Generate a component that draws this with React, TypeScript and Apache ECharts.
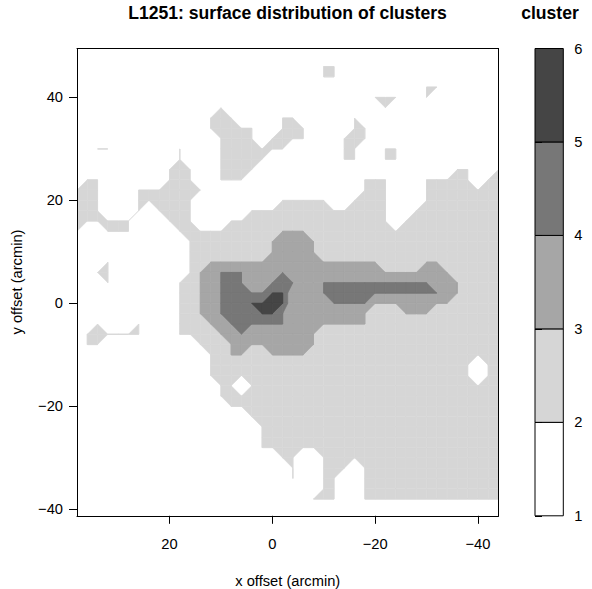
import React, { useEffect, useRef } from "react";
import * as echarts from "echarts";

// grid point coordinates (arcmin)
const xCoords = [38, 36, 34, 32, 30, 28, 26, 24, 22, 20, 18, 16, 14, 12, 10, 8, 6, 4, 2, 0, -2, -4, -6, -8, -10, -12, -14, -16, -18, -20, -22, -24, -26, -28, -30, -32, -34, -36, -38, -40, -42, -44];
const yCoords = [50, 48, 46, 44, 42, 40, 38, 36, 34, 32, 30, 28, 26, 24, 22, 20, 18, 16, 14, 12, 10, 8, 6, 4, 2, 0, -2, -4, -6, -8, -10, -12, -14, -16, -18, -20, -22, -24, -26, -28, -30, -32, -34, -36, -38, -40, -42];

// cluster value at each grid point: one row per y (top to bottom), one char per x (left to right)
const gridRows = [
  "1111111111 1111111111 1111111111 1111111111 11",
  "1111111111 1111111111 1111111111 1111111111 11",
  "1111111111 1111111111 1111221111 1111111111 11",
  "1111111111 1111111111 1111221111 1111111111 11",
  "1111111111 1111111111 1111111111 1111221111 11",
  "1111111111 1111111111 1111111112 2211211111 11",
  "1111111111 1111211111 1111111111 2111111111 11",
  "1111111111 1112221111 2211111211 1111111111 11",
  "1111111111 1112222211 2221111221 1111111111 11",
  "1111111111 1111222212 2221112221 1111111111 11",
  "1122111111 2111222222 2111112211 2211111111 11",
  "1111111111 2111222221 1111112211 2211111111 11",
  "1111111112 2211222211 1111111111 1111111221 12",
  "1221111112 2211222111 1111111122 2111222221 22",
  "2221112222 2221111111 1111111122 2111222222 22",
  "2221112222 2211111111 2222211222 2111222222 22",
  "2221112122 2211111222 2222222222 2112222222 22",
  "2222221112 2211122222 2222222222 2122222222 22",
  "2112221111 2222222222 3332222222 2222222222 22",
  "1111111111 1222222223 3333222222 2222222222 22",
  "1111111111 1222222223 3333222222 2222222222 22",
  "1112111111 1223333333 3333333333 2222332222 22",
  "1122111111 1233444333 4333333333 3333333222 22",
  "1112111111 2233444334 4433444444 4444433322 22",
  "1111111111 2233444445 5333444444 4444443322 22",
  "1111111111 2233444555 5333344443 3333333222 22",
  "1111111111 2233444455 4333333332 2233322222 22",
  "1121112111 2223344444 4333333332 2222222222 22",
  "1222222111 2222334333 3333222222 2222222222 22",
  "1221111111 1122233333 3333222222 2222222222 22",
  "1111111111 1112233223 3332222222 2222222222 22",
  "1111111111 1112222222 2222222222 2222222221 22",
  "1111111111 1112222222 2222222222 2222222221 22",
  "1111111111 1111221222 2222222222 2222222222 22",
  "1111111111 1111222222 2222222222 2222222222 22",
  "1111111111 1111122222 2222222222 2222222222 22",
  "1111111111 1111111222 2222222222 2222222222 22",
  "1111111111 1111111122 2222222222 2222222222 22",
  "1111111111 1111111122 2222222222 2222222222 22",
  "1111111111 1111111122 2222222222 2222222222 22",
  "1111111111 1111111111 2211222222 2222222222 22",
  "1111111111 1111111111 1211222122 2222222222 22",
  "1111111111 1111111111 1211221122 2222222222 22",
  "1111111111 1111111111 1111221122 2222222222 22",
  "1111111111 1111111111 1112221122 2222222222 22",
  "1111111111 1111111111 1111111111 1111111111 11",
  "1111111111 1111111111 1111111111 1111111111 11",
];

const levels = [1, 2, 3, 4, 5, 6];
const bandColors = ["#FFFFFF", "#D6D6D6", "#A6A6A6", "#777777", "#454545"];
const xTicks = [20, 0, -20, -40];
const yTicks = [-40, -20, 0, 20, 40];
const titleText = "L1251: surface distribution of clusters";
const legendTitle = "cluster";
const xLabel = "x offset (arcmin)";
const yLabel = "y offset (arcmin)";

const FONT = '"Liberation Sans", Arial, Helvetica, sans-serif';

const values: number[][] = gridRows.map((r) =>
  r.replace(/ /g, "").split("").map((c) => Number(c))
);

type Pt = { x: number; y: number; v: number };

function clipAbove(poly: Pt[], L: number): Pt[] {
  const out: Pt[] = [];
  for (let k = 0; k < poly.length; k++) {
    const P = poly[k];
    const Q = poly[(k + 1) % poly.length];
    const pin = P.v >= L;
    const qin = Q.v >= L;
    if (pin && qin) {
      out.push(Q);
    } else if (pin && !qin) {
      const t = (L - P.v) / (Q.v - P.v);
      out.push({ x: P.x + t * (Q.x - P.x), y: P.y + t * (Q.y - P.y), v: L });
    } else if (!pin && qin) {
      const t = (L - P.v) / (Q.v - P.v);
      out.push({ x: P.x + t * (Q.x - P.x), y: P.y + t * (Q.y - P.y), v: L });
      out.push(Q);
    }
  }
  return out;
}

function distinctCount(pts: Pt[]): number {
  const seen: string[] = [];
  pts.forEach((p) => {
    const key = p.x.toFixed(4) + "," + p.y.toFixed(4);
    if (seen.indexOf(key) < 0) seen.push(key);
  });
  return seen.length;
}

function cellCorners(i: number, j: number): Pt[] {
  return [
    { x: xCoords[i], y: yCoords[j], v: values[j][i] },
    { x: xCoords[i + 1], y: yCoords[j], v: values[j][i + 1] },
    { x: xCoords[i + 1], y: yCoords[j + 1], v: values[j + 1][i + 1] },
    { x: xCoords[i], y: yCoords[j + 1], v: values[j + 1][i] },
  ];
}

const fmt = (v: number) => (v < 0 ? "\u2212" + Math.abs(v) : String(v));

export default function App() {
  const ref = useRef<HTMLDivElement>(null);
  useEffect(() => {
    if (!ref.current) return;
    const chart = echarts.init(ref.current, undefined, { renderer: "svg" });

    // one custom series per filled band, drawn from the lowest band up
    const bandSeries: any[] = [];
    for (let b = 1; b < bandColors.length; b++) {
      const L = levels[b];
      const cells: number[][] = [];
      for (let j = 0; j < yCoords.length - 1; j++) {
        for (let i = 0; i < xCoords.length - 1; i++) {
          const poly = clipAbove(cellCorners(i, j), L);
          if (distinctCount(poly) >= 2) cells.push([xCoords[i], yCoords[j], i, j]);
        }
      }
      bandSeries.push({
        type: "custom",
        xAxisIndex: 0,
        yAxisIndex: 0,
        clip: true,
        z: 2,
        encode: { x: 0, y: 1 },
        data: cells,
        renderItem: (params: any, api: any) => {
          const i = api.value(2);
          const j = api.value(3);
          const poly = clipAbove(cellCorners(i, j), L);
          const pts = poly.map((p) => api.coord([p.x, p.y]));
          return {
            type: "polygon",
            shape: { points: pts },
            style: { fill: bandColors[b], stroke: bandColors[b], lineWidth: 0.6 },
          };
        },
      });
    }

    const legendData = bandColors.map((_, b) => [0, levels[b], levels[b + 1], b]);

    const option: any = {
      animation: false,
      backgroundColor: "#FFFFFF",
      grid: [
        { left: 77, top: 48.5, width: 421.5, height: 467.3, outerBoundsMode: "none", containLabel: false },
        { left: 535, top: 48.5, width: 28.3, height: 467.3, outerBoundsMode: "none", containLabel: false },
      ],
      xAxis: [
        {
          gridIndex: 0, type: "value", min: -44, max: 38, inverse: true, position: "bottom", z: 10,
          axisLine: { show: true, onZero: false, lineStyle: { color: "#000", width: 1 } },
          axisTick: { show: true, length: 8, customValues: xTicks, lineStyle: { color: "#000", width: 1 } },
          axisLabel: { show: true, customValues: xTicks, formatter: fmt, fontSize: 14.7, color: "#000", margin: 21, fontFamily: FONT },
          splitLine: { show: false },
        },
        {
          gridIndex: 0, type: "value", min: -44, max: 38, inverse: true, position: "top", z: 10,
          axisLine: { show: true, onZero: false, lineStyle: { color: "#000", width: 1 } },
          axisTick: { show: false }, axisLabel: { show: false }, splitLine: { show: false },
        },
        { gridIndex: 1, type: "value", min: 0, max: 1, show: false },
      ],
      yAxis: [
        {
          gridIndex: 0, type: "value", min: -41.25, max: 49.5, position: "left", z: 10,
          axisLine: { show: true, onZero: false, lineStyle: { color: "#000", width: 1 } },
          axisTick: { show: true, length: 8, customValues: yTicks, lineStyle: { color: "#000", width: 1 } },
          axisLabel: { show: true, customValues: yTicks, formatter: fmt, fontSize: 14.7, color: "#000", margin: 14, fontFamily: FONT },
          splitLine: { show: false },
        },
        {
          gridIndex: 0, type: "value", min: -41.25, max: 49.5, position: "right", z: 10,
          axisLine: { show: true, onZero: false, lineStyle: { color: "#000", width: 1 } },
          axisTick: { show: false }, axisLabel: { show: false }, splitLine: { show: false },
        },
        {
          gridIndex: 1, type: "value", min: 1, max: 6, interval: 1, position: "right", z: 10,
          axisLine: { show: false },
          axisTick: { show: true, length: 7, lineStyle: { color: "#000", width: 1 } },
          axisLabel: { show: true, fontSize: 14.7, color: "#000", margin: 11, fontFamily: FONT },
          splitLine: { show: false },
        },
      ],
      series: [
        ...bandSeries,
        {
          type: "custom",
          xAxisIndex: 2,
          yAxisIndex: 2,
          z: 2,
          encode: { x: 0, y: [1, 2] },
          data: legendData,
          renderItem: (params: any, api: any) => {
            const lo = api.value(1);
            const hi = api.value(2);
            const b = api.value(3);
            const p1 = api.coord([0, hi]);
            const p2 = api.coord([1, lo]);
            return {
              type: "rect",
              shape: { x: p1[0], y: p1[1], width: p2[0] - p1[0], height: p2[1] - p1[1] },
              style: { fill: bandColors[b], stroke: "#000", lineWidth: 1 },
            };
          },
        },
      ],
      graphic: [
        {
          type: "text", x: 287.5, y: 12.7,
          style: { text: titleText, fontSize: 17.6, fontWeight: "bold", fontFamily: FONT, fill: "#000", align: "center", verticalAlign: "middle" },
        },
        {
          type: "text", x: 550, y: 12.7,
          style: { text: legendTitle, fontSize: 17.6, fontWeight: "bold", fontFamily: FONT, fill: "#000", align: "center", verticalAlign: "middle" },
        },
        {
          type: "text", x: 287.75, y: 581,
          style: { text: xLabel, fontSize: 14.7, fontFamily: FONT, fill: "#000", align: "center", verticalAlign: "middle" },
        },
        {
          type: "text", x: 17, y: 282, rotation: Math.PI / 2,
          style: { text: yLabel, fontSize: 14.7, fontFamily: FONT, fill: "#000", align: "center", verticalAlign: "middle" },
        },
      ],
    };

    chart.setOption(option);
    return () => chart.dispose();
  }, []);

  return (
    <div
      ref={ref}
      style={{ position: "absolute", left: 0, top: 0, width: 592, height: 589 }}
    />
  );
}
